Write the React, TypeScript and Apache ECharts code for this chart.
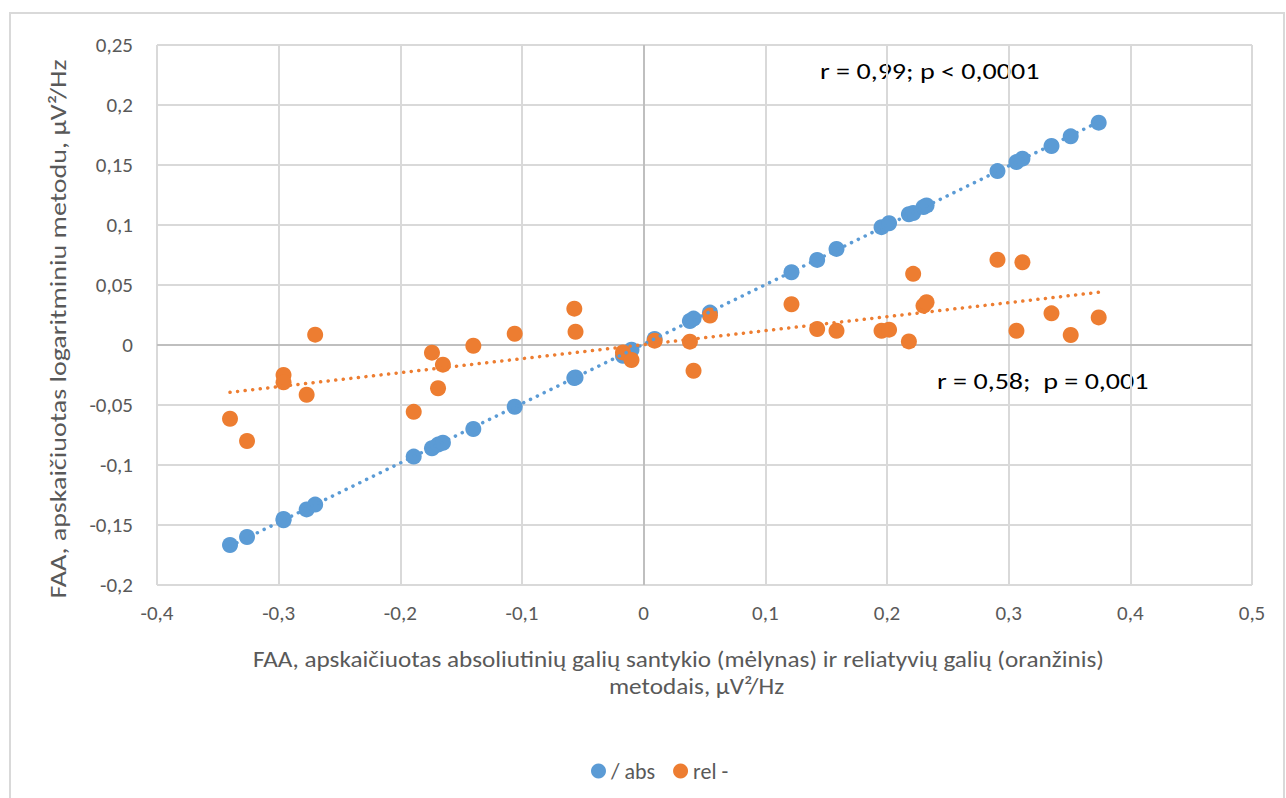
import React, { useEffect, useRef } from "react";
import * as echarts from "echarts";

const subjX = [
  -0.340, -0.326, -0.296, -0.296, -0.277, -0.270, -0.189, -0.174, -0.169, -0.165,
  -0.140, -0.106, -0.057, -0.056, -0.017, -0.010, 0.009, 0.038, 0.041, 0.0545,
  0.1215, 0.1426, 0.1585, 0.1955, 0.2017, 0.218, 0.2215, 0.230, 0.2325, 0.2908,
  0.3064, 0.3113, 0.3352, 0.351, 0.374,
];
const absY = [
  -0.1667, -0.160, -0.145, -0.146, -0.137, -0.133, -0.093, -0.086, -0.083, -0.0815,
  -0.070, -0.0515, -0.0275, -0.027, -0.009, -0.004, 0.005, 0.020, 0.022, 0.027,
  0.0606, 0.0709, 0.0801, 0.0982, 0.1015, 0.109, 0.110, 0.1149, 0.1163, 0.1449,
  0.1524, 0.1553, 0.1658, 0.1739, 0.1853,
];
const relY = [
  -0.0615, -0.080, -0.025, -0.031, -0.0415, 0.0086, -0.0557, -0.0064, -0.036, -0.0164,
  -0.0006, 0.0094, 0.0303, 0.011, -0.0062, -0.0125, 0.0036, 0.0028, -0.0215, 0.0245,
  0.034, 0.0133, 0.0119, 0.0119, 0.0128, 0.003, 0.0593, 0.0328, 0.0356, 0.071,
  0.0119, 0.069, 0.0264, 0.0083, 0.023,
];

const seriesNames = ["/ abs", "rel -"];
const annotations = ["r = 0,99; p < 0,0001", "r = 0,58;  p = 0,001"];
const xTitleLines = [
  "FAA, apskaičiuotas absoliutinių galių santykio (mėlynas) ir reliatyvių galių (oranžinis)",
  "metodais, µV²/Hz",
];
const yTitle = "FAA, apskaičiuotas logaritminiu metodu, µV²/Hz";

const BLUE = "#5B9BD5";
const ORANGE = "#ED7D31";
const GREY = "#595959";
const FONT = "Carlito, 'Liberation Sans Narrow', 'DejaVu Sans Condensed', sans-serif";

function trend(xs: number[], ys: number[]) {
  const n = xs.length;
  const mx = xs.reduce((a, b) => a + b, 0) / n;
  const my = ys.reduce((a, b) => a + b, 0) / n;
  let sxy = 0, sxx = 0;
  for (let i = 0; i < n; i++) {
    sxy += (xs[i] - mx) * (ys[i] - my);
    sxx += (xs[i] - mx) ** 2;
  }
  const b = sxy / sxx;
  const a = my - b * mx;
  const x0 = Math.min(...xs), x1 = Math.max(...xs);
  return [[x0, a + b * x0], [x1, a + b * x1]];
}

const fmt = (v: number) => String(Math.round(v * 1000) / 1000).replace(".", ",");

export default function App() {
  const ref = useRef<HTMLDivElement>(null);
  useEffect(() => {
    document.body.style.margin = "0";
    const chart = echarts.init(ref.current!, null, { renderer: "svg" });
    const absPts = subjX.map((x, i) => [x, absY[i]]);
    const relPts = subjX.map((x, i) => [x, relY[i]]);
    const dotted = { type: [0.1, 7.5] as any, width: 3.5, cap: "round" as any };
    chart.setOption({
      animation: false,
      backgroundColor: "#fff",
      textStyle: { fontFamily: FONT },
      grid: { left: 157, right: 34, top: 45, bottom: 213 },
      xAxis: {
        type: "value",
        min: -0.4,
        max: 0.5,
        interval: 0.1,
        axisLine: { show: false },
        axisTick: { show: false },
        axisLabel: { formatter: fmt, color: GREY, fontSize: 21, margin: 17, fontFamily: FONT },
        splitLine: { lineStyle: { color: "#d9d9d9", width: 2 } },
      },
      yAxis: {
        type: "value",
        min: -0.2,
        max: 0.25,
        interval: 0.05,
        axisLine: { show: false },
        axisTick: { show: false },
        axisLabel: { formatter: fmt, color: GREY, fontSize: 21, margin: 24, fontFamily: FONT },
        splitLine: { lineStyle: { color: "#d9d9d9", width: 2 } },
      },
      legend: {
        top: 755,
        left: 586,
        itemWidth: 15,
        itemHeight: 15,
        itemGap: 18,
        data: [
          { name: seriesNames[0], icon: "circle" },
          { name: seriesNames[1], icon: "circle" },
        ],
        textStyle: { color: GREY, fontSize: 22, fontFamily: FONT },
      },
      graphic: [
        {
          type: "rect",
          shape: { x: 10, y: 13, width: 1274, height: 820 },
          style: { fill: "none", stroke: "#d9d9d9", lineWidth: 2 },
          silent: true,
          z: -10,
        },
        {
          type: "text",
          x: 820,
          y: 71,
          scaleX: 1.22,
          style: { text: annotations[0], fill: "#000", font: `23px ${FONT}`, textAlign: "left", textVerticalAlign: "middle" },
        },
        {
          type: "text",
          x: 937,
          y: 381,
          scaleX: 1.22,
          style: { text: annotations[1], fill: "#000", font: `23px ${FONT}`, textAlign: "left", textVerticalAlign: "middle" },
        },
        {
          type: "text",
          x: 253,
          y: 659,
          scaleX: 1.095,
          style: { text: xTitleLines[0], fill: GREY, font: `23px ${FONT}`, textAlign: "left", textVerticalAlign: "middle" },
        },
        {
          type: "text",
          x: 609,
          y: 686,
          scaleX: 1.095,
          style: { text: xTitleLines[1], fill: GREY, font: `23px ${FONT}`, textAlign: "left", textVerticalAlign: "middle" },
        },
        {
          type: "text",
          x: 58,
          y: 329,
          rotation: Math.PI / 2,
          scaleX: 1.22,
          style: { text: yTitle, fill: GREY, font: `23px ${FONT}`, textAlign: "center", textVerticalAlign: "middle" },
        },
      ],
      series: [
        {
          name: seriesNames[0],
          type: "scatter",
          data: absPts,
          symbol: "circle",
          symbolSize: 16,
          itemStyle: { color: BLUE, opacity: 1 },
          z: 3,
          markLine: {
            silent: true,
            symbol: "none",
            label: { show: false },
            lineStyle: { color: "#bfbfbf", width: 2, type: "solid" },
            data: [{ xAxis: 0 }, { yAxis: 0 }],
            z: 1,
          },
        },
        {
          name: seriesNames[1],
          type: "scatter",
          data: relPts,
          symbol: "circle",
          symbolSize: 16,
          itemStyle: { color: ORANGE, opacity: 1 },
          z: 4,
        },
        {
          name: "abs trend",
          type: "line",
          data: trend(subjX, absY),
          showSymbol: false,
          symbol: "none",
          lineStyle: { ...dotted, color: BLUE },
          z: 5,
          silent: true,
        },
        {
          name: "rel trend",
          type: "line",
          data: trend(subjX, relY),
          showSymbol: false,
          symbol: "none",
          lineStyle: { ...dotted, color: ORANGE },
          z: 5,
          silent: true,
        },
      ],
    });
    return () => chart.dispose();
  }, []);
  return <div ref={ref} style={{ width: 1286, height: 798 }} />;
}
